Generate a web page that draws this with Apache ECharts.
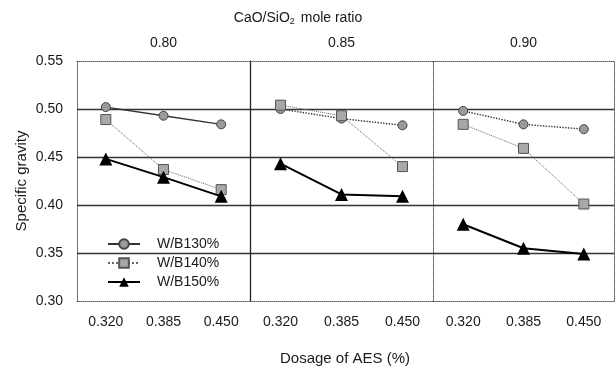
<!DOCTYPE html>
<html>
<head>
<meta charset="utf-8">
<script src="https://cdn.jsdelivr.net/npm/echarts@6/dist/echarts.min.js"></script>
<style>
  html, body { margin: 0; padding: 0; background: #fff; }
  #chart { width: 615px; height: 370px; }
</style>
</head>
<body>
<div id="chart"></div>
<script>
// CaO/SiO2 mole ratio panels and AES dosage categories
const ratios = ['0.80', '0.85', '0.90'];
const dosage = ['0.320', '0.385', '0.450'];
const seriesNames = ['W/B130%', 'W/B140%', 'W/B150%'];

// Specific gravity, one row per panel
const wb130 = [
  [0.502, 0.493, 0.484],
  [0.500, 0.490, 0.483],
  [0.498, 0.484, 0.479]
];
const wb140 = [
  [0.489, 0.437, 0.416],
  [0.504, 0.493, 0.440],
  [0.484, 0.459, 0.401]
];
const wb150 = [
  [0.448, 0.429, 0.409],
  [0.443, 0.411, 0.409],
  [0.380, 0.355, 0.349]
];

const font = 'Liberation Sans, Arial, sans-serif';
const ink = '#1a1a1a';

const chart = echarts.init(document.getElementById('chart'));

// panel edges (px) - the scanned panels are not quite equal
const panelLefts = [77, 250, 433];
const panelWidths = [173, 183, 181];

const grids = [];
const xAxes = [];
const yAxes = [];
const series = [];

ratios.forEach((r, i) => {
  grids.push({ left: panelLefts[i], width: panelWidths[i], top: 61, bottom: 69 });

  // bottom axis: dosage
  xAxes.push({
    type: 'category',
    gridIndex: i,
    data: dosage,
    boundaryGap: true,
    position: 'bottom',
    axisLine: { lineStyle: { color: '#555', type: 'dotted', width: 1 } },
    axisTick: { show: false },
    axisLabel: { color: ink, fontSize: 14, fontFamily: font, margin: 14 }
  });
  // top axis: mole ratio label
  xAxes.push({
    type: 'category',
    gridIndex: i,
    data: [r],
    position: 'top',
    axisLine: { lineStyle: { color: '#555', type: 'dotted', width: 1 } },
    axisTick: { show: false },
    axisLabel: { color: ink, fontSize: 14, fontFamily: font, margin: 11 }
  });

  yAxes.push({
    type: 'value',
    gridIndex: i,
    min: 0.30,
    max: 0.55,
    interval: 0.05,
    position: 'left',
    name: i === 0 ? 'Specific gravity' : '',
    nameLocation: 'middle',
    nameGap: 48,
    nameTextStyle: { color: ink, fontSize: 15, fontFamily: font },
    axisLine: {
      show: true,
      lineStyle: {
        color: i === 1 ? '#222' : '#555',
        type: i === 1 ? 'solid' : 'dotted',
        width: i === 1 ? 1.3 : 1
      }
    },
    axisTick: { show: false },
    axisLabel: {
      show: i === 0,
      color: ink,
      fontSize: 14,
      fontFamily: font,
      margin: 14,
      formatter: v => v.toFixed(2)
    },
    splitLine: {
      show: true,
      showMinLine: false,
      showMaxLine: false,
      lineStyle: { color: '#333', width: 1.3 }
    }
  });
  if (i === 2) {
    yAxes.push({
      type: 'value',
      gridIndex: i,
      min: 0.30,
      max: 0.55,
      interval: 0.05,
      position: 'right',
      axisLine: { show: true, lineStyle: { color: '#555', type: 'dotted', width: 1 } },
      axisTick: { show: false },
      axisLabel: { show: false },
      splitLine: { show: false }
    });
  }

  const xIdx = i * 2;
  const yIdx = i;

  series.push({
    name: seriesNames[0],
    type: 'line',
    xAxisIndex: xIdx,
    yAxisIndex: yIdx,
    data: wb130[i],
    symbol: 'circle',
    symbolSize: 9,
    lineStyle: { color: '#333', width: 1.4, type: i === 0 ? 'solid' : 'dotted' },
    itemStyle: { color: '#9a9a9a', borderColor: '#444', borderWidth: 1 },
    z: 3
  });
  series.push({
    name: seriesNames[1],
    type: 'line',
    xAxisIndex: xIdx,
    yAxisIndex: yIdx,
    data: wb140[i],
    symbol: 'rect',
    symbolSize: 10,
    lineStyle: { color: '#666', width: 1, type: 'dotted' },
    itemStyle: { color: '#a8a8a8', borderColor: '#555', borderWidth: 1 },
    z: 4
  });
  series.push({
    name: seriesNames[2],
    type: 'line',
    xAxisIndex: xIdx,
    yAxisIndex: yIdx,
    data: wb150[i],
    symbol: 'triangle',
    symbolSize: 13,
    lineStyle: { color: '#000', width: 2 },
    itemStyle: { color: '#000', borderWidth: 0 },
    z: 5
  });
});

const option = {
  animation: false,
  backgroundColor: '#fff',
  title: [
    {
      text: 'CaO/SiO{sub|2} mole ratio',
      left: 293,
      top: 6,
      textAlign: 'center',
      textStyle: {
        color: ink, fontSize: 14, fontWeight: 'normal', fontFamily: font,
        rich: { sub: { fontSize: 9, verticalAlign: 'bottom', padding: [6, 2, 0, 0], color: ink, fontFamily: font } }
      }
    },
    {
      text: 'Dosage of AES (%)',
      left: 340,
      top: 346,
      textAlign: 'center',
      textStyle: { color: ink, fontSize: 15, fontWeight: 'normal', fontFamily: font }
    }
  ],
  legend: {
    data: seriesNames,
    orient: 'vertical',
    left: 102,
    top: 232,
    itemGap: 5,
    itemWidth: 32,
    itemHeight: 12,
    textStyle: { color: ink, fontSize: 14, fontFamily: font, padding: [0, 0, 0, 12] }
  },
  grid: grids,
  xAxis: xAxes,
  yAxis: yAxes,
  series: series
};

chart.setOption(option);
</script>
</body>
</html>
